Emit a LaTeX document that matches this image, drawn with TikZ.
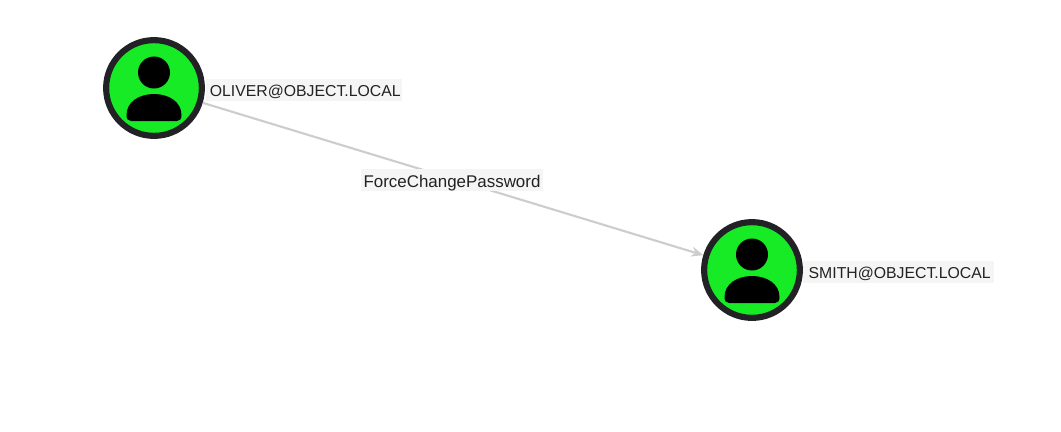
\documentclass[tikz,border=0pt]{standalone}
\usepackage{fontspec}
\setmainfont{Liberation Sans}
\definecolor{nodegreen}{HTML}{17EB26}
\definecolor{ringgrey}{HTML}{222226}
\definecolor{edgegrey}{HTML}{CDCDCD}
\definecolor{labelgrey}{HTML}{F5F5F5}
\definecolor{textgrey}{HTML}{222222}
\usetikzlibrary{arrows.meta}
\tikzset{
    usernode/.style={draw=ringgrey, fill=nodegreen, circle, line width=4.6pt, minimum size=71.8pt, inner sep=0},
    namelabel/.style={fill=labelgrey, text=textgrey, font=\fontsize{11.85}{14}\selectfont, inner xsep=0, inner ysep=2.25pt, text height=11pt, text depth=1pt, anchor=west},
    edgeline/.style={draw=edgegrey, line width=1.6pt, -{Stealth[length=9pt,width=7.5pt]}},
    usericon/.pic={
        \fill[black] (0,-15.5) circle (16);
        \fill[black] (-27.5,27) .. controls (-27.5,14) and (-15,6) .. (0,6)
            .. controls (15,6) and (27.5,14) .. (27.5,27)
            .. controls (27.5,31) and (26,33) .. (23,33) -- (-23,33)
            .. controls (-26,33) and (-27.5,31) .. (-27.5,27) -- cycle;
    }
}
\begin{document}
\begin{tikzpicture}[x=.75pt, y=-.75pt]
    \useasboundingbox (0,0) rectangle (1061,432);
    % gebruikers
    \node[usernode] (oliver) at (154,88) {};
    \node[usernode] (smith) at (752,270) {};
    \pic at (oliver) {usericon};
    \pic at (smith) {usericon};
    % labels
    \node[namelabel, minimum width=147.5pt] (oliverlabel) at (205.5,89.5) {\hspace{1.8pt}OLIVER@OBJECT.LOCAL\hfill};
    \node[namelabel, minimum width=143pt] (smithlabel) at (803,271.5) {\hspace{1.6pt}SMITH@OBJECT.LOCAL\hfill};
    % verbinding
    \draw[edgeline] (oliver) -- node[namelabel, anchor=center, font=\fontsize{12.7}{14}\selectfont, text height=12pt, text depth=0pt, minimum width=137pt, pos=.498, yshift=-.8pt] (edgelabel) {ForceChangePassword} (smith);
\end{tikzpicture}
\end{document}
